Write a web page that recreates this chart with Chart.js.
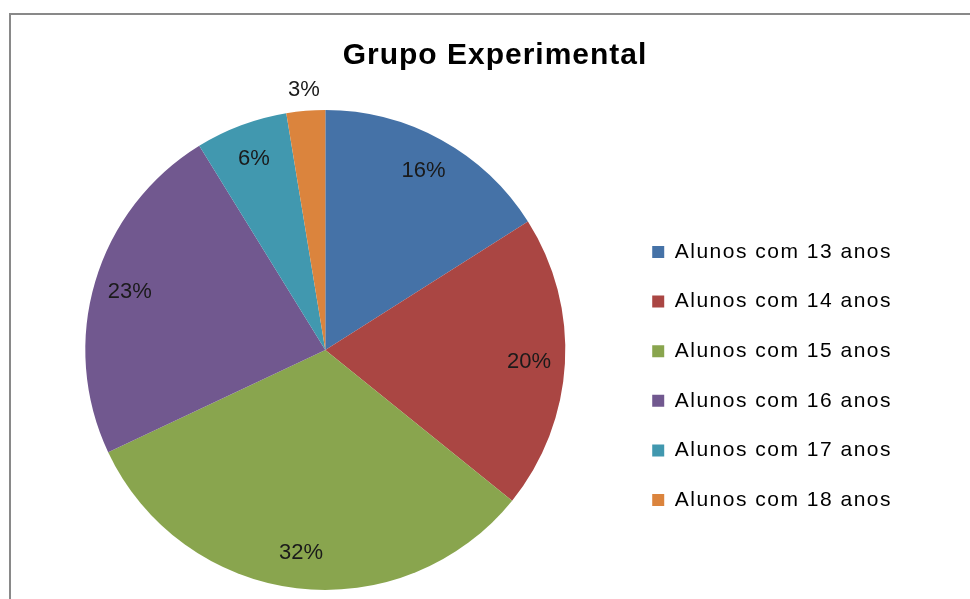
<!DOCTYPE html>
<html lang="pt">
<head>
  <meta charset="UTF-8">
  <title>Grupo Experimental</title>
  <style>
    html, body { margin: 0; padding: 0; background: #fff; overflow: hidden; }
    .frame {
      position: absolute; left: 9px; top: 13px; width: 1000px; height: 640px;
      border: 2px solid #898989; box-sizing: border-box;
    }
    .chart-box {
      position: absolute; left: 11px; top: 15px; width: 968px; height: 584px;
    }
  </style>
</head>
<body>
  <div class="frame"></div>
  <div class="chart-box">
    <canvas id="mychart"></canvas>
  </div>
  <script src="https://cdn.jsdelivr.net/npm/chart.js"></script>
  <script>
    // dados (percentagens)
    const categorias = ['Alunos com 13 anos', 'Alunos com 14 anos', 'Alunos com 15 anos',
                        'Alunos com 16 anos', 'Alunos com 17 anos', 'Alunos com 18 anos']
    const valores = [16, 19.8, 32.2, 23.2, 6.2, 2.6]
    const cores = ['#4572A7', '#AA4643', '#89A54E', '#71588F', '#4198AF', '#DB843D']

    const fonte = "'Liberation Sans', Arial, sans-serif"

    // espaçamento entre letras na legenda e no título
    const espacos = {
      id: 'espacos',
      afterInit(chart) {
        const wrap = (box, sp) => {
          ['fit', 'draw'].forEach(fn => {
            const orig = box[fn]
            box[fn] = function(...a) {
              const c = this.ctx
              const prev = c.letterSpacing
              c.letterSpacing = sp
              const r = orig.apply(this, a)
              c.letterSpacing = prev
              return r
            }
          })
        }
        wrap(chart.legend, '1.5px')
        wrap(chart.titleBlock, '1px')
      },
      afterLayout(chart) {
        // título centrado na largura toda
        chart.titleBlock.left = 0
        chart.titleBlock.right = chart.width
      }
    }

    // rótulos de percentagem
    const rotulos = {
      id: 'rotulos',
      afterDatasetsDraw(chart) {
        const ctx = chart.ctx
        const meta = chart.getDatasetMeta(0)
        const total = valores.reduce((a, b) => a + b, 0)
        ctx.save()
        ctx.letterSpacing = '0px'
        ctx.font = '22px ' + fonte
        ctx.fillStyle = '#1a1a1a'
        ctx.textAlign = 'center'
        ctx.textBaseline = 'middle'
        meta.data.forEach((arc, i) => {
          const p = arc.getProps(['x', 'y', 'startAngle', 'endAngle', 'outerRadius'], true)
          const mid = (p.startAngle + p.endAngle) / 2
          const pct = valores[i] / total * 100
          const r = pct < 4 ? p.outerRadius + 21 : p.outerRadius * 0.85
          ctx.fillText(Math.round(pct) + '%', p.x + Math.cos(mid) * r, p.y + Math.sin(mid) * r)
        })
        ctx.restore()
      }
    }

    const mychart = document.getElementById('mychart')
    new Chart(mychart, {
      type: 'pie',
      data: {
        labels: categorias,
        datasets: [{
          data: valores,
          backgroundColor: cores,
          borderWidth: 0
        }]
      },
      options: {
        responsive: true,
        maintainAspectRatio: false,
        animation: false,
        layout: { padding: { left: 16, right: 77, top: 0, bottom: 9 } },
        plugins: {
          title: {
            display: true,
            text: 'Grupo Experimental',
            color: '#000',
            font: { family: fonte, size: 30, weight: 'bold' },
            padding: { top: 23, bottom: 36 }
          },
          legend: {
            position: 'right',
            fullSize: false,
            align: 'center',
            title: { display: true, text: '', font: { size: 10 }, padding: { top: 0, bottom: 40 } },
            labels: {
              color: '#000',
              font: { family: fonte, size: 21 },
              boxWidth: 12,
              boxHeight: 12,
              padding: 28.6
            }
          },
          tooltip: { enabled: false }
        }
      },
      plugins: [espacos, rotulos]
    })
  </script>
</body>
</html>
